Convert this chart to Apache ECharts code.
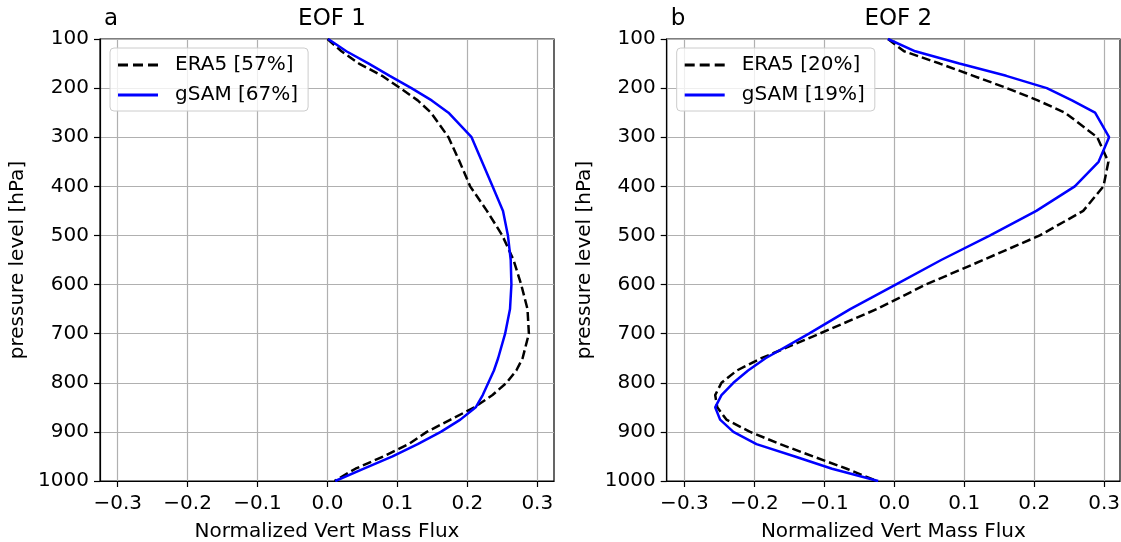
<!DOCTYPE html>
<html>
<head>
<meta charset="utf-8">
<script src="https://cdn.jsdelivr.net/npm/echarts@6/dist/echarts.min.js"></script>
<style>
  html, body { margin: 0; padding: 0; background: #fff; }
  #chart { width: 1121px; height: 542px; }
</style>
</head>
<body>
<div id="chart"></div>
<script>
// ---- data ----
const levels = [100,125,150,175,200,225,250,300,350,400,450,500,550,600,650,700,750,775,800,825,850,875,900,925,950,975,1000];

const eof1Era5 = [0.000,0.020,0.045,0.078,0.104,0.129,0.148,0.173,0.189,0.204,0.228,0.250,0.266,0.277,0.286,0.288,0.279,0.270,0.256,0.236,0.210,0.176,0.142,0.116,0.080,0.040,0.010];
const eof1Gsam = [0.001,0.027,0.059,0.089,0.120,0.149,0.173,0.206,0.221,0.236,0.251,0.258,0.262,0.263,0.261,0.254,0.244,0.238,0.230,0.222,0.212,0.190,0.162,0.129,0.093,0.052,0.011];

const eof2Era5 = [-0.009,0.014,0.065,0.113,0.161,0.205,0.244,0.290,0.306,0.299,0.270,0.208,0.127,0.045,-0.025,-0.107,-0.190,-0.225,-0.247,-0.256,-0.253,-0.240,-0.206,-0.163,-0.116,-0.068,-0.025];
const eof2Gsam = [-0.009,0.030,0.093,0.160,0.218,0.254,0.287,0.307,0.292,0.258,0.203,0.137,0.067,0.002,-0.063,-0.122,-0.184,-0.209,-0.230,-0.247,-0.256,-0.249,-0.230,-0.197,-0.142,-0.089,-0.023];

const panelLetters = ['a', 'b'];
const panelTitles = ['EOF 1', 'EOF 2'];
const legendNames = [['ERA5 [57%]', 'gSAM [67%]'], ['ERA5 [20%]', 'gSAM [19%]']];
const xTicks = [-0.3, -0.2, -0.1, 0.0, 0.1, 0.2, 0.3];
const xName = 'Normalized Vert Mass Flux';
const yName = 'pressure level [hPa]';

// ---- chart ----
const FONT = 'DejaVu Sans';
const FS = 20;
const TFS = 23;
const pair = (vals) => levels.map((p, i) => [vals[i], p]);
const fmtX = (v) => {
  const s = Math.abs(v).toFixed(1);
  return v < -1e-9 ? '\u2212' + s : s;
};
const fmtY = (v) => String(Math.round(v));

// legend handle shapes (filled paths, scaled to itemWidth x itemHeight)
const ICON_DASH = 'path://M0,0h10v3h-10z M15,0h10v3h-10z M30,0h10v3h-10z';
const ICON_SOLID = 'path://M0,0h40v3h-40z';

const gridsPx = [
  { left: 100, width: 454, top: 39, height: 442 },
  { left: 666.7, width: 453.3, top: 39, height: 442 }
];
const xRanges = [[-0.3253, 0.3239], [-0.3253, 0.3226]];

const option = {
  animation: false,
  backgroundColor: '#ffffff',
  textStyle: { fontFamily: FONT },
  title: [],
  legend: [],
  grid: [],
  xAxis: [],
  yAxis: [],
  series: []
};

const seriesData = [[eof1Era5, eof1Gsam], [eof2Era5, eof2Gsam]];

for (let k = 0; k < 2; k++) {
  const g = gridsPx[k];
  option.grid.push({
    left: g.left, top: g.top, width: g.width, height: g.height,
    containLabel: false, outerBoundsMode: 'none',
    show: true, borderColor: '#000', borderWidth: 1.2, backgroundColor: 'transparent'
  });
  option.title.push({
    text: panelLetters[k], left: g.left - 1, top: 3,
    textStyle: { fontFamily: FONT, fontSize: TFS, fontWeight: 'normal', color: '#000' }
  });
  option.title.push({
    text: panelTitles[k], left: g.left + g.width / 2, top: 3, textAlign: 'center',
    textStyle: { fontFamily: FONT, fontSize: TFS, fontWeight: 'normal', color: '#000' }
  });
  option.xAxis.push({
    gridIndex: k, type: 'value', min: xRanges[k][0], max: xRanges[k][1],
    name: xName, nameLocation: 'middle', nameGap: 41,
    nameTextStyle: { fontFamily: FONT, fontSize: FS, color: '#000' },
    axisLine: { show: true, onZero: false, lineStyle: { color: '#000', width: 1.2 } },
    axisTick: { show: true, length: 6, customValues: xTicks, lineStyle: { color: '#000', width: 1.2 } },
    axisLabel: { customValues: xTicks, formatter: fmtX, fontFamily: FONT, fontSize: FS, color: '#000', margin: 13 },
    splitLine: { show: true, lineStyle: { color: '#b0b0b0', width: 1.2 } }
  });
  option.yAxis.push({
    gridIndex: k, type: 'value', inverse: true, min: 100, max: 1000, interval: 100,
    name: yName, nameLocation: 'middle', nameGap: 72,
    nameTextStyle: { fontFamily: FONT, fontSize: FS, color: '#000' },
    axisLine: { show: true, onZero: false, lineStyle: { color: '#000', width: 1.2 } },
    axisTick: { show: true, length: 6, lineStyle: { color: '#000', width: 1.2 } },
    axisLabel: { formatter: fmtY, fontFamily: FONT, fontSize: FS, color: '#000', margin: 11 },
    splitLine: { show: true, lineStyle: { color: '#b0b0b0', width: 1.2 } }
  });
  option.series.push({
    name: legendNames[k][0], type: 'line', xAxisIndex: k, yAxisIndex: k,
    data: pair(seriesData[k][0]), symbol: 'none', smooth: false,
    lineStyle: { color: '#000', width: 2.5, type: [9, 4] }, itemStyle: { color: '#000' }
  });
  option.series.push({
    name: legendNames[k][1], type: 'line', xAxisIndex: k, yAxisIndex: k,
    data: pair(seriesData[k][1]), symbol: 'none', smooth: false,
    lineStyle: { color: '#0000ff', width: 2.5 }, itemStyle: { color: '#0000ff' }
  });
  option.legend.push({
    data: [
      { name: legendNames[k][0], icon: ICON_DASH, itemStyle: { color: '#000' } },
      { name: legendNames[k][1], icon: ICON_SOLID, itemStyle: { color: '#0000ff' } }
    ],
    orient: 'vertical',
    left: g.left + 10, top: 48,
    itemWidth: 40, itemHeight: 3, itemGap: 10,
    padding: [7, 10, 6, 8],
    backgroundColor: 'rgba(255,255,255,0.8)', borderColor: '#cccccc', borderWidth: 1, borderRadius: 4,
    textStyle: { fontFamily: FONT, fontSize: FS, color: '#000', lineHeight: 20, padding: [0, 0, 0, 12] }
  });
}

const chart = echarts.init(document.getElementById('chart'), null, { renderer: 'canvas' });
chart.setOption(option);
</script>
</body>
</html>
